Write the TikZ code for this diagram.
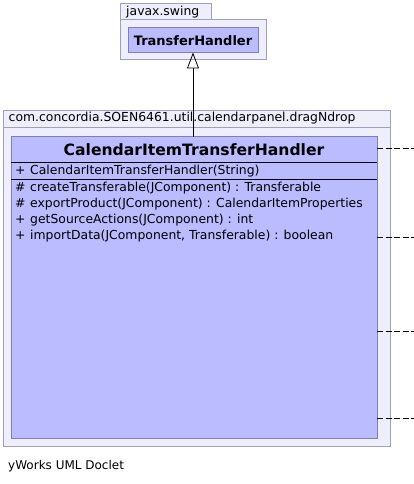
\documentclass[tikz,border=0pt]{standalone}
\usepackage{fontspec}
\setmainfont{DejaVu Sans}
\usetikzlibrary{arrows.meta}
\definecolor{PkgFill}{RGB}{238,238,252}
\definecolor{PkgLine}{RGB}{160,160,184}
\definecolor{ClassFill}{RGB}{186,188,255}
\definecolor{ClassLine}{RGB}{128,128,176}

\begin{document}
\begin{tikzpicture}[x=1pt,y=-1pt,
  pkg/.style={draw=PkgLine,fill=PkgFill,line width=1pt},
  cls/.style={draw=ClassLine,fill=ClassFill,line width=1pt},
  pkglabel/.style={anchor=west,inner sep=0pt,font=\fontsize{12.4}{14}\selectfont},
  member/.style={anchor=west,inner sep=0pt,font=\fontsize{12.4}{14}\selectfont},
  dep/.style={dash pattern=on 6pt off 2.5pt,line width=.8pt}]
\useasboundingbox (0,0) rectangle (414,484);
\def\mk#1{\makebox[15pt][l]{#1}}

% javax.swing
\draw[pkg] (120.5,3.5) rectangle (211.5,20);
\draw[pkg] (120.5,20) rectangle (266.5,60);
\node[pkglabel] (swing) at (126,12) {javax.swing};
\draw[cls] (128,28) rectangle (258,52.5);
\node[inner sep=0pt,font=\fontsize{13}{15}\selectfont\bfseries] (TH) at (193,40.5) {TransferHandler};
\coordinate (THbot) at (193,52.5);

% com.concordia.SOEN6461.util.calendarpanel.dragNdrop
\draw[pkg] (3.5,110.5) rectangle (390.5,127);
\draw[pkg] (3.5,127) rectangle (390.5,446.5);
\node[pkglabel] (dnd) at (8.5,118.5) {com.concordia.SOEN6461.util.calendarpanel.dragNdrop};
\draw[cls] (11,136.5) rectangle (377,438);
\node[inner sep=0pt,font=\fontsize{15.6}{18}\selectfont\bfseries] (CITH) at (194,150) {CalendarItemTransferHandler};
\coordinate (CITHtop) at (193,136.5);
\draw[line width=1pt] (11,162.5) -- (377,162.5);
\draw[line width=1pt] (11,179.5) -- (377,179.5);

\node[member] (c1) at (15,171) {\mk{+}CalendarItemTransferHandler(String)};
\node[member] (m1) at (15,188.5) {\mk{\#}createTransferable(JComponent) : Transferable};
\node[member] (m2) at (15,204.5) {\mk{\#}exportProduct(JComponent) : CalendarItemProperties};
\node[member] (m3) at (15,220.5) {\mk{+}getSourceActions(JComponent) : int};
\node[member] (m4) at (15,236.5) {\mk{+}importData(JComponent, Transferable) : boolean};

\draw[-{Triangle[open,width=12pt,length=16pt]},line width=.8pt] (CITHtop) -- (THbot);

% dependencies leaving to the right
\foreach \y/\n in {148/a,237/b,331/c,418/d} {
  \coordinate (s\n) at (377,\y);
  \coordinate (e\n) at (414,\y);
  \draw[dep] (s\n) -- (e\n);
}

\node[anchor=west,inner sep=0pt,font=\fontsize{12}{14}\selectfont] (doclet) at (8,466) {yWorks UML Doclet};
\end{tikzpicture}
\end{document}
